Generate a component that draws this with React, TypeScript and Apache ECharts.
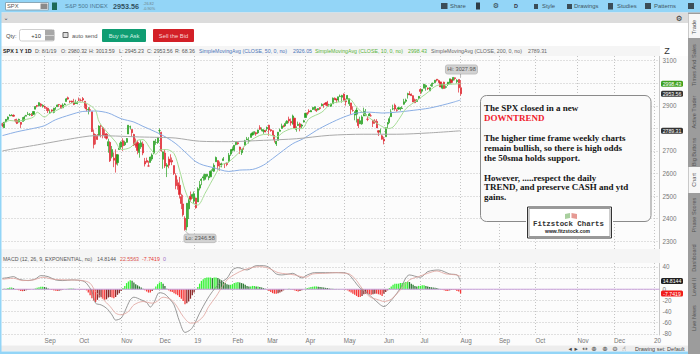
import React, { useEffect, useRef } from "react";
import * as echarts from "echarts";

// [open, high, low, close] for each session, by month
const aug18 = [[2821,2825,2805,2813],[2803,2829,2802,2827],[2829,2841,2829,2840],[2840,2853,2836,2850],[2855,2863,2855,2858],[2856,2863,2855,2858],[2858,2862,2852,2854],[2838,2842,2826,2833],[2836,2843,2819,2822],[2828,2843,2826,2840],[2827,2828,2802,2818],[2831,2850,2831,2841],[2841,2856,2833,2850],[2854,2860,2854,2857],[2861,2873,2861,2863],[2860,2868,2855,2862],[2860,2868,2854,2857],[2862,2876,2862,2875],[2885,2898,2885,2897],[2901,2904,2893,2898],[2900,2916,2898,2914],[2908,2912,2895,2901],[2899,2907,2892,2902]];
const sep18 = [[2897,2901,2887,2897],[2892,2895,2877,2889],[2889,2892,2868,2878],[2868,2884,2864,2872],[2882,2884,2872,2877],[2871,2892,2867,2888],[2889,2895,2882,2889],[2896,2906,2896,2904],[2906,2908,2895,2905],[2903,2904,2887,2889],[2891,2911,2890,2904],[2906,2912,2903,2908],[2919,2935,2919,2931],[2936,2941,2927,2930],[2921,2923,2913,2919],[2921,2923,2913,2916],[2917,2931,2903,2906],[2911,2927,2909,2914],[2911,2921,2907,2914]];
const oct18 = [[2927,2937,2921,2925],[2924,2932,2920,2923],[2932,2939,2918,2926],[2920,2920,2889,2902],[2903,2910,2875,2886],[2882,2894,2862,2884],[2883,2894,2874,2880],[2874,2874,2784,2786],[2776,2795,2711,2728],[2770,2775,2729,2767],[2764,2775,2749,2751],[2767,2814,2767,2810],[2812,2817,2760,2809],[2803,2807,2756,2769],[2776,2798,2757,2768],[2774,2779,2750,2756],[2722,2754,2692,2741],[2738,2743,2651,2656],[2675,2722,2667,2706],[2668,2693,2628,2659],[2684,2707,2604,2641],[2648,2686,2635,2683],[2706,2736,2705,2712]];
const nov18 = [[2717,2742,2708,2740],[2745,2756,2700,2723],[2727,2745,2722,2738],[2738,2757,2737,2755],[2775,2815,2775,2814],[2806,2812,2795,2807],[2795,2795,2763,2781],[2773,2776,2722,2726],[2731,2755,2714,2722],[2737,2747,2685,2702],[2693,2735,2670,2730],[2718,2747,2709,2736],[2731,2742,2681,2691],[2654,2669,2631,2642],[2657,2670,2649,2650],[2633,2656,2631,2633],[2649,2675,2649,2673],[2664,2689,2656,2682],[2692,2744,2685,2744],[2737,2753,2727,2738],[2737,2761,2731,2760]];
const dec18 = [[2790,2800,2774,2790],[2782,2785,2697,2700],[2663,2697,2621,2696],[2691,2708,2624,2633],[2631,2646,2584,2638],[2664,2675,2623,2637],[2659,2685,2650,2651],[2658,2671,2637,2651],[2635,2635,2593,2600],[2590,2601,2530,2546],[2559,2573,2528,2546],[2548,2585,2489,2507],[2497,2510,2442,2467],[2465,2505,2409,2417],[2401,2410,2346.58,2351],[2363,2468,2347,2468],[2443,2489,2398,2489],[2499,2520,2473,2486],[2499,2510,2488,2507]];
const jan19 = [[2477,2520,2467,2510],[2491,2493,2444,2448],[2474,2539,2474,2532],[2535,2567,2525,2550],[2569,2579,2548,2574],[2580,2596,2568,2585],[2574,2598,2569,2597],[2588,2597,2583,2596],[2581,2589,2570,2583],[2585,2613,2585,2610],[2614,2626,2610,2616],[2610,2645,2606,2636],[2652,2675,2652,2671],[2657,2658,2617,2633],[2643,2653,2612,2639],[2639,2648,2627,2642],[2657,2673,2657,2665],[2644,2644,2624,2644],[2644,2650,2632,2640],[2654,2691,2648,2681],[2686,2708,2678,2704]];
const feb19 = [[2703,2717,2697,2707],[2706,2724,2698,2725],[2728,2738,2725,2738],[2736,2739,2727,2732],[2717,2719,2687,2706],[2692,2708,2682,2708],[2712,2719,2705,2710],[2725,2749,2725,2745],[2750,2762,2749,2753],[2744,2761,2733,2746],[2760,2776,2760,2776],[2771,2785,2768,2780],[2782,2787,2773,2785],[2781,2785,2767,2775],[2780,2794,2775,2793],[2804,2814,2794,2796],[2793,2804,2787,2794],[2787,2796,2776,2792],[2789,2794,2783,2784]];
const mar19 = [[2798,2808,2788,2804],[2814,2816,2767,2793],[2794,2796,2785,2790],[2790,2791,2768,2771],[2769,2769,2737,2749],[2731,2744,2722,2743],[2747,2784,2747,2783],[2787,2799,2786,2792],[2800,2821,2799,2811],[2811,2816,2804,2808],[2811,2831,2810,2822],[2822,2836,2821,2833],[2841,2852,2823,2833],[2831,2844,2812,2824],[2819,2861,2817,2855],[2845,2847,2800,2801],[2796,2809,2785,2798],[2813,2830,2811,2818],[2820,2826,2787,2805],[2810,2820,2801,2815],[2828,2838,2826,2834]];
const apr19 = [[2848,2869,2848,2867],[2868,2872,2858,2867],[2877,2885,2865,2873],[2873,2882,2873,2879],[2884,2893,2882,2893],[2888,2896,2880,2896],[2886,2886,2873,2878],[2882,2889,2879,2888],[2892,2894,2882,2888],[2900,2911,2899,2907],[2908,2909,2891,2906],[2912,2917,2901,2907],[2916,2922,2895,2900],[2905,2909,2896,2905],[2898,2910,2896,2908],[2909,2937,2909,2934],[2934,2937,2926,2927],[2928,2933,2912,2926],[2926,2940,2917,2940],[2941,2950,2939,2943],[2938,2949,2914,2946]];
const may19 = [[2952,2955,2924,2924],[2922,2932,2901,2918],[2930,2948,2930,2946],[2909,2932,2899,2932],[2913,2913,2862,2884],[2880,2898,2874,2879],[2859,2876,2836,2871],[2863,2892,2826,2881],[2841,2841,2801,2812],[2820,2852,2820,2834],[2820,2858,2816,2851],[2855,2892,2855,2876],[2858,2886,2854,2860],[2841,2854,2832,2840],[2855,2868,2855,2864],[2856,2865,2852,2856],[2836,2836,2806,2822],[2833,2841,2820,2826],[2831,2841,2802,2802],[2790,2792,2766,2783],[2786,2799,2776,2789],[2767,2772,2750,2752]];
const jun19 = [[2752,2763,2729,2744],[2763,2804,2763,2803],[2819,2827,2801,2826],[2829,2853,2823,2843],[2852,2885,2852,2873],[2886,2905,2881,2887],[2903,2910,2878,2886],[2882,2888,2874,2880],[2886,2896,2882,2892],[2886,2895,2879,2887],[2888,2898,2887,2890],[2907,2931,2905,2918],[2920,2932,2913,2926],[2949,2958,2932,2954],[2952,2965,2947,2950],[2951,2955,2944,2945],[2945,2947,2917,2917],[2927,2932,2912,2914],[2919,2930,2919,2925],[2932,2943,2929,2942]];
const jul19 = [[2972,2978,2952,2964],[2965,2973,2955,2973],[2978,2996,2978,2996],[2984,2995,2967,2990],[2979,2981,2970,2976],[2966,2982,2966,2980],[2990,3002,2984,2993],[2999,3003,2985,3000],[3003,3014,3001,3014],[3018,3018,3008,3014],[3012,3016,3003,3004],[3006,3006,2984,2984],[2978,2999,2974,2995],[3005,3007,2976,2977],[2982,2990,2977,2985],[2995,3006,2988,3005],[3000,3020,3000,3020],[3016,3017,2999,3004],[3013,3027.98,3013,3026],[3024,3026,3013,3021],[3007,3018,3000,3013],[3017,3017,2959,2980]];
const aug19 = [[2980.32,3013.59,2945.23,2953.56]];

// moving averages: [session index, value]
const sma50 = [[0,2768],[8,2785],[17,2800],[23,2812],[29,2838],[37,2860],[44,2875],[51,2877],[58,2868],[65,2843],[72,2828],[77,2809],[84,2784],[90,2759],[95,2732],[101,2688],[106,2652],[110,2637],[115,2627],[124,2609],[130,2615],[137,2618],[143,2637],[148,2666],[154,2703],[159,2732],[165,2755],[172,2791],[179,2821],[187,2850],[194,2868],[201,2872],[208,2868],[216,2872],[225,2880],[234,2890],[241,2903],[247,2916],[251,2926.05]];
const sma10 = [[0,2818],[4,2835],[8,2832],[12,2838],[17,2850],[19,2872],[23,2850],[26,2868],[29,2877],[35,2902],[40,2916],[44,2916],[48,2902],[51,2880],[53,2828],[58,2777],[62,2740],[65,2706],[70,2715],[74,2747],[77,2750],[81,2710],[84,2685],[86,2703],[90,2706],[94,2688],[97,2615],[100,2527],[103,2475],[107,2460],[111,2512],[115,2571],[120,2637],[124,2652],[130,2696],[135,2740],[141,2769],[145,2774],[150,2762],[154,2784],[159,2799],[164,2799],[168,2843],[175,2872],[180,2909],[187,2921],[190,2931],[194,2894],[198,2865],[203,2835],[207,2813],[211,2799],[214,2806],[218,2850],[221,2887],[227,2924],[232,2953],[238,2990],[243,2994],[251,2998.43]];
const sma200 = [[0,2700],[8,2712],[17,2724],[26,2737],[35,2750],[44,2762],[51,2768],[62,2766],[75,2762],[86,2760],[95,2757],[108,2743],[124,2741],[143,2747],[161,2754],[179,2769],[198,2774],[216,2774],[234,2780],[251,2789.31]];

const macdValue = [[0,19.6],[3,20.8],[6,22.6],[9,17.8],[14,15.5],[18,18.4],[21,24.4],[25,22.6],[29,16.7],[33,15.5],[38,16.7],[44,14.9],[46,10.7],[49,-4.2],[51,-25],[54,-28],[57,-34],[60,-46],[62,-55.3],[65,-51.8],[67,-39.9],[70,-19],[72,-14.3],[76,-19],[79,-23.8],[81,-32],[83,-23.8],[86,-6],[89,-8.9],[92,-19],[94,-28],[97,-57.7],[100,-77.4],[103,-72.6],[105,-63.7],[108,-42.9],[112,-19],[115,-4.2],[119,10.7],[123,19.6],[126,34.5],[129,38.7],[134,34.5],[139,42.2],[143,42.2],[146,39.3],[150,27.4],[153,25.6],[157,27.4],[159,28.5],[164,20.2],[167,25.6],[171,29.7],[177,29.7],[181,29.7],[187,29.7],[190,25.6],[193,13.7],[196,1.8],[199,-4.2],[204,-19],[209,-31],[214,-16],[218,1.8],[223,25.6],[229,21.4],[233,31.5],[239,34.5],[245,27.4],[249,25.6],[251,14.81]];
const macdAvg = [[0,17.8],[6,19.6],[11,15.5],[17,16.7],[22,21.4],[28,17.8],[35,16.7],[44,15.5],[48,10.7],[51,-4.2],[55,-17.9],[59,-31],[62,-42.9],[65,-45.8],[69,-39.9],[72,-28],[77,-22],[82,-25],[84,-23.2],[88,-14.3],[92,-17.9],[95,-28],[99,-48.8],[103,-60.7],[106,-59.5],[110,-48.8],[113,-31],[117,-13.1],[121,7.7],[124,19.6],[130,31.5],[135,37.5],[141,40.5],[146,37.5],[151,29.7],[156,27.4],[160,25.6],[166,21.4],[170,27.4],[177,28.5],[183,29.7],[188,28.5],[190,27.4],[193,19.6],[197,1.8],[201,-13.1],[206,-19],[209,-22],[213,-17.9],[218,-1.2],[223,16.6],[228,22.6],[233,28.5],[238,32.7],[243,27.4],[249,25.6],[251,22.56]];
const macdDiff = [0.5,1,1,2,3,3,2,0.5,-1,-2,-3,-3.5,-3,-2,-1,-0.5,0,0.5,1.5,2.5,3.5,4.5,4.5,
  4,3,1.5,-0.5,-1.5,-2,-2.5,-3,-2.5,-2,-1,0,0.5,1,1.5,1.5,1,0.5,0,
  -0.5,-1,-1,-0.5,-2,-6,-11,-16,-20,-23,-19,-15,-14,-17,-19,-18,-15,-14,-15,-16,-14,-10,-7,
  -3,2,6,11,14,16,15,12,9,7,5,3,1,-2,-4,-6,-6,-3,1,5,9,
  12,13,10,6,1,-2,-4,-5,-7,-9,-11,-14,-17,-21,-27,-25,-22,-17,-11,
  -6,-1,4,10,15,18,20,21,21,21,20,21,21,20,18,16,13,11,9,8,8,
  9,11,12,13,12,11,10,8,6,5,5,6,6,5,5,4,3,2,1,
  -1,-3,-5,-7,-8,-8,-7,-6,-4,-2,0,0.5,1,0.5,-1,-2,-3,-4,-3,-2,0,
  1,2,3,4,4.5,5,5,4.5,4,3.5,3,2.5,2,1.5,1,1,0.5,0.5,0.5,0.5,0,
  -0.5,-1,-2,-4,-6,-8,-10,-12,-14,-14,-12,-9,-8,-8,-9,-10,-9,-8,-8,-9,-10,-12,
  -8,-5,-2,2,5,8,10,10,10,11,11,12,13,14,13,10,8,6,5,6,
  6,7,7,6,5,4,3.5,3,2.5,2,1,0.5,-1,-2,-3,-3,-2,-1,-1,-1.5,-3,-4,
  -7.74];
const zeroLine = [[0,0],[360,0]];

// month ticks: session index and label
const tickIndex = [23,42,65,86,105,126,145,166,187,209,229,251,272,292,315,335,357];
const tickLabel = ["Sep","Oct","Nov","Dec","19","Feb","Mar","Apr","May","Jun","Jul","Aug","Sep","Oct","Nov","Dec","20"];
const priceGrid = [2300,2400,2500,2600,2700,2800,2900,3000,3100];
const priceLabels = [2300,2400,2500,2600,2700,2900,3100];
const macdGrid = [-80,-60,-40,-20,0,20,40];
const macdLabels = [-80,-60,-40,-20,0,40];
const SLOTS = 361;

const noteLines: [string, number, string][] = [
  ["The SPX closed in a new", 108, "#141414"],
  ["DOWNTREND", 118, "#f0202c"],
  ["The higher time frame weekly charts", 138, "#141414"],
  ["remain bullish, so there is high odds", 147.7, "#141414"],
  ["the 50sma holds support.", 157.5, "#141414"],
  ["However, .....respect the daily", 177.5, "#141414"],
  ["TREND, and preserve CASH and ytd", 187.3, "#141414"],
  ["gains.", 197, "#141414"],
];
const sideTabs: [string, number][] = [["Trade",27],["Times And Sales",65],["Active Trader",112],["Big Buttons",152],["Chart",180],["Phase Scores",215],["Dashboard",258],["Level II",287],["Live News",318]];
const legendTop: [string, number, string, boolean?][] = [
  ["SPX 1 Y 1D",3,"#222",true],["D: 8/1/19",35,"#555"],["O: 2980.32",61,"#555"],["H: 3013.59",89,"#555"],["L: 2945.23",119,"#555"],["C: 2953.56",147,"#555"],["R: 68.36",175,"#555"],
  ["SimpleMovingAvg (CLOSE, 50, 0, no)",199,"#4a74b8"],["2926.05",293,"#4a74b8"],["SimpleMovingAvg (CLOSE, 10, 0, no)",315,"#58b33a"],["2998.43",408,"#58b33a"],["SimpleMovingAvg (CLOSE, 200, 0, no)",431,"#666"],["2789.31",528,"#666"],
];
const legendMacd: [string, number, string][] = [["MACD (12, 26, 9, EXPONENTIAL, no)",3,"#555"],["14.8144",97,"#555"],["22.5563",120,"#d9534f"],["-7.7419",142,"#e53935"],["0",163,"#a070c8"]];
const topLabels: [string, number][] = [["Share",450],["Style",542],["Drawings",574],["Studies",617],["Patterns",654]];

const SANS = '"Liberation Sans"';
const txt = (text: string, x: number, y: number, fill: string, size = 6.3, bold = false, align = "left", family = SANS) => ({
  type: "text", x, y, z: 20, silent: true,
  style: { text, fill, font: `${bold ? "bold " : ""}${size}px ${family}`, textAlign: align, textVerticalAlign: "middle" },
});
const box = (x: number, y: number, width: number, height: number, fill: string, stroke?: string, r = 0, z = 15) => ({
  type: "rect", z, silent: true, shape: { x, y, width, height, r },
  style: { fill, stroke: stroke || "none", lineWidth: stroke ? 1 : 0 },
});
const tag = (text: string, cy: number, fill: string) => [
  box(661, cy - 3, 22, 6, fill, undefined, 1.5, 21),
  { ...txt(text, 672, cy, "#fff", 5.2, false, "center"), z: 22 },
];

export default function App() {
  const ref = useRef<HTMLDivElement>(null);
  useEffect(() => {
    document.body.style.margin = "0";
    document.body.style.overflow = "hidden";
    const chart = echarts.init(ref.current!, undefined, { renderer: "svg" });
    const rows = [...aug18, ...sep18, ...oct18, ...nov18, ...dec18, ...jan19, ...feb19, ...mar19, ...apr19, ...may19, ...jun19, ...jul19, ...aug19];
    const candles = rows.map(([o, h, l, c]) => [o, c, l, h]);
    const cats = Array.from({ length: SLOTS }, (_, i) => {
      const k = tickIndex.indexOf(i);
      return k >= 0 ? tickLabel[k] : "";
    });
    const isTick = (i: number) => tickIndex.includes(i);
    const dotted = { show: true, interval: isTick, lineStyle: { color: "#c4c4c4", type: [1, 2] as any, width: 1 } };
    const hDotted = { show: true, lineStyle: { color: "#c4c4c4", type: [1, 2] as any, width: 1 } };
    const axisText = { color: "#777", fontSize: 6.3, fontFamily: "Liberation Sans", margin: 3, formatter: (v: number) => String(v) };
    const lineOf = (data: number[][], color: string, xi = 0, w = 1, z = 4) => ({
      type: "line", data, xAxisIndex: xi, yAxisIndex: xi, showSymbol: false, symbol: "none", smooth: 0.3,
      connectNulls: true, lineStyle: { color, width: w }, silent: true, z,
    });
    chart.setOption({
      animation: false,
      backgroundColor: "#fcfcfc",
      tooltip: { show: false },
      grid: [
        { left: 2.5, right: 40.5, top: 56, height: 193 },
        { left: 2.5, right: 40.5, top: 263, height: 72 },
      ],
      xAxis: [
        { type: "category", gridIndex: 0, data: cats, boundaryGap: false, axisLabel: { show: false }, axisTick: { show: false }, axisLine: { show: false }, splitLine: dotted },
        { type: "category", gridIndex: 1, data: cats, boundaryGap: false, axisTick: { show: false }, axisLine: { show: false }, splitLine: dotted,
          axisLabel: { color: "#777", fontSize: 6.3, fontFamily: "Liberation Sans", interval: (i: number) => isTick(i), align: "left", margin: 2 } },
      ],
      yAxis: [
        { type: "value", gridIndex: 0, position: "right", min: 2265, max: 3121, scale: true,
          axisLabel: { ...axisText, customValues: priceLabels },
          axisTick: { show: false, customValues: priceGrid }, axisLine: { show: true, lineStyle: { color: "#c8c8c8" } }, splitLine: hDotted },
        { type: "value", gridIndex: 1, position: "right", min: -82, max: 47, scale: true,
          axisLabel: { ...axisText, customValues: macdLabels },
          axisTick: { show: false, customValues: macdGrid }, axisLine: { show: true, lineStyle: { color: "#c8c8c8" } }, splitLine: hDotted },
      ],
      series: [
        { type: "candlestick", data: candles, xAxisIndex: 0, yAxisIndex: 0, barWidth: 1.6, z: 3, silent: true,
          itemStyle: { color: "#27a020", color0: "#e0262f", borderColor: "#27a020", borderColor0: "#e0262f", borderWidth: 0.7 } },
        lineOf(sma50, "#8aaee4"),
        lineOf(sma10, "#a6dc96"),
        lineOf(sma200, "#a9a9a9"),
        { type: "bar", data: macdDiff, xAxisIndex: 1, yAxisIndex: 1, barWidth: 1.3, silent: true, z: 3,
          itemStyle: { color: (p: any) => {
            const v = p.value as number;
            const prev = p.dataIndex > 0 ? macdDiff[p.dataIndex - 1] : 0;
            if (v >= 0) return v >= prev ? "#38f238" : "#2f7a35";
            return v <= prev ? "#f53a3a" : "#8e2a2a";
          } } },
        lineOf(zeroLine, "#c9a0dc", 1, 1, 5),
        lineOf(macdValue, "#808080", 1, 0.8, 6),
        lineOf(macdAvg, "#e0a29c", 1, 0.8, 6),
      ],
    });
    const py = (v: number) => chart.convertToPixel({ yAxisIndex: 0 }, v) as number;
    const my = (v: number) => chart.convertToPixel({ yAxisIndex: 1 }, v) as number;
    const px = (i: number) => chart.convertToPixel({ xAxisIndex: 0 }, i) as number;
    const hiX = px(246), hiY = py(3027.98), loX = px(100), loY = py(2346.58);
    const graphics: any[] = [
      // chrome
      box(0, 0, 700, 12.5, "#93d5f7"),
      box(0, 12.5, 688, 10.5, "#dcdcdc"),
      box(0, 23, 688, 23, "#ffffff"),
      box(0, 46, 660, 10, "#f5f5f5"),
      box(660, 46, 28, 10, "#ffffff"),
      box(0, 249, 660, 14, "#f5f5f5"),
      box(0, 345.5, 688, 6, "#ededed"),
      box(0, 351.5, 700, 2.5, "#93d5f7"),
      box(0, 0, 1.5, 354, "#93d5f7"),
      box(688, 12.5, 12, 341.5, "#9c9c9c"),
      box(688.5, 14, 11.5, 24, "#f7f7f7"),
      box(688.5, 167, 11.5, 26, "#f7f7f7"),
      // top bar
      box(5.5, 2.5, 43, 7.5, "#ffffff", "#8aa8b8"),
      txt("SPX", 7, 6.3, "#555", 5.8),
      box(40.5, 3.5, 7, 5.5, "#8a8a8a"),
      box(52, 2.5, 5, 7.5, "#1d6a58"),
      txt("S&P 500 INDEX", 65, 6.3, "#4d7a94", 5.9),
      txt("2953.56", 113, 6.3, "#30505f", 7.2, true),
      txt("-26.82", 143, 4, "#6d7f88", 3.8),
      txt("-0.90%", 143, 8.8, "#6d7f88", 3.8),
      txt("D", 516, 6.3, "#334", 5.5, true, "center"),
      txt("⚙", 496, 6.3, "#2f3d46", 7, false, "center", "DejaVu Sans"),
      txt("⚙", 679, 18, "#333", 7.5, false, "center", "DejaVu Sans"),
      txt("⌄", 6, 17, "#444", 6, false, "center", "DejaVu Sans"),
      box(476, 2.5, 4, 7, "#2f3d46"),
      box(441, 3, 6.5, 6, "#3b4d57"),
      box(534, 4, 4, 5, "#3b4d57"),
      box(567, 4, 5, 5, "#3b4d57"),
      box(608, 3, 5, 6.5, "#3b4d57"),
      box(645, 3, 6, 6, "#3b4d57"),
      box(688, 3, 6, 6, "#3b4d57"),
      // order row
      txt("Qty:", 6, 35.5, "#444", 5.8),
      box(19.5, 29.5, 35, 11.5, "#ffffff", "#cfcfcf", 2),
      txt("+10", 41, 35.5, "#333", 5.8, false, "right"),
      box(45, 30, 9, 5, "#a8a8a8"),
      box(45, 35.5, 9, 5, "#a8a8a8"),
      box(63, 32.5, 5, 5, "#dddddd", "#666"),
      txt("auto send", 72, 35.5, "#555", 5.8),
      box(102, 29, 44, 13, "#0f9d72", undefined, 1),
      txt("Buy the Ask", 124, 35.5, "#d7f5ea", 5.8, false, "center"),
      box(153, 29, 41, 13, "#d32027", undefined, 1),
      txt("Sell the Bid", 173.5, 35.5, "#f8d7d7", 5.8, false, "center"),
      // chart corner icon
      txt("Z", 667, 51, "#333", 9, false, "center"),
      // Hi / Lo tags
      { type: "line", z: 16, silent: true, shape: { x1: px(251), y1: hiY, x2: px(251), y2: hiY - 3 }, style: { stroke: "#999", lineWidth: 0.7 } },
      box(hiX - 6, hiY - 12, 32, 9, "#d2d2d2", "#c0c0c0", 2),
      txt("Hi: 3027.98", hiX + 10, hiY - 7.5, "#555", 5.6, false, "center"),
      { type: "line", z: 16, silent: true, shape: { x1: loX, y1: loY, x2: loX + 4, y2: loY + 4 }, style: { stroke: "#999", lineWidth: 0.7 } },
      box(loX - 1, loY + 3.5, 32, 8.5, "#d2d2d2", "#c0c0c0", 2),
      txt("Lo: 2346.58", loX + 15, loY + 7.7, "#555", 5.6, false, "center"),
      // value tags
      ...tag("2998.43", py(2998.43), "#3ea11f"),
      ...tag("2953.56", py(2953.56), "#333333"),
      ...tag("2789.31", py(2789.31), "#333333"),
      ...tag("14.8144", my(14.81), "#222222"),
      ...tag("-7.7419", my(-7.74), "#f01b1b"),
      // note
      box(480.5, 95.5, 170.5, 126, "#fafafa", "#8a8a8a", 6, 17),
      box(526, 205.5, 87, 34, "#ffffff", undefined, 0, 18),
      box(527.5, 207, 84, 31, "#ffffff", "#333333", 0, 19),
      box(529, 208.5, 81, 28, "#ffffff", "#9a9a9a", 0, 19),
      { type: "polygon", z: 20, silent: true, shape: { points: [[565, 214], [570, 213], [570, 218], [565, 219]] }, style: { fill: "#a9cf9e" } },
      { type: "polygon", z: 20, silent: true, shape: { points: [[571.5, 213], [577, 214], [577, 219], [571.5, 218]] }, style: { fill: "#e69a94" } },
      txt("Fitzstock Charts", 568.5, 223.5, "#333", 7.4, true, "center", '"Liberation Mono"'),
      txt("www.fitzstock.com", 567.5, 231.2, "#222", 5, true, "center"),
    ];
    legendTop.forEach(([t, x, c, b]) => graphics.push(txt(t, x, 51.3, c, b ? 5.4 : 5.25, !!b)));
    legendMacd.forEach(([t, x, c]) => graphics.push(txt(t, x, 258.7, c, 5.25)));
    topLabels.forEach(([t, x]) => graphics.push(txt(t, x, 6.3, "#3f5563", 5.9)));
    noteLines.forEach(([t, y, c]) => graphics.push({ ...txt(t, 484, y, c, 9, true, "left", '"Liberation Serif"'), z: 20 }));
    sideTabs.forEach(([t, y]) => graphics.push({ ...txt(t, 694.2, y, "#555", 5.6, false, "center"), rotation: Math.PI / 2 }));
    graphics.push(txt("Drawing set: Default", 635, 348.5, "#444", 5.5));
    [["◂", 570], ["▸", 576], ["↔", 585], ["⊕", 594], ["⊕", 605], ["⊖", 615], ["☝", 624]].forEach(([t, x]) =>
      graphics.push(txt(t as string, x as number, 348.5, "#444", 6.5, false, "center", "DejaVu Sans")));
    chart.setOption({ graphic: { elements: graphics } });
    return () => chart.dispose();
  }, []);
  return <div ref={ref} style={{ width: 700, height: 354 }} />;
}
